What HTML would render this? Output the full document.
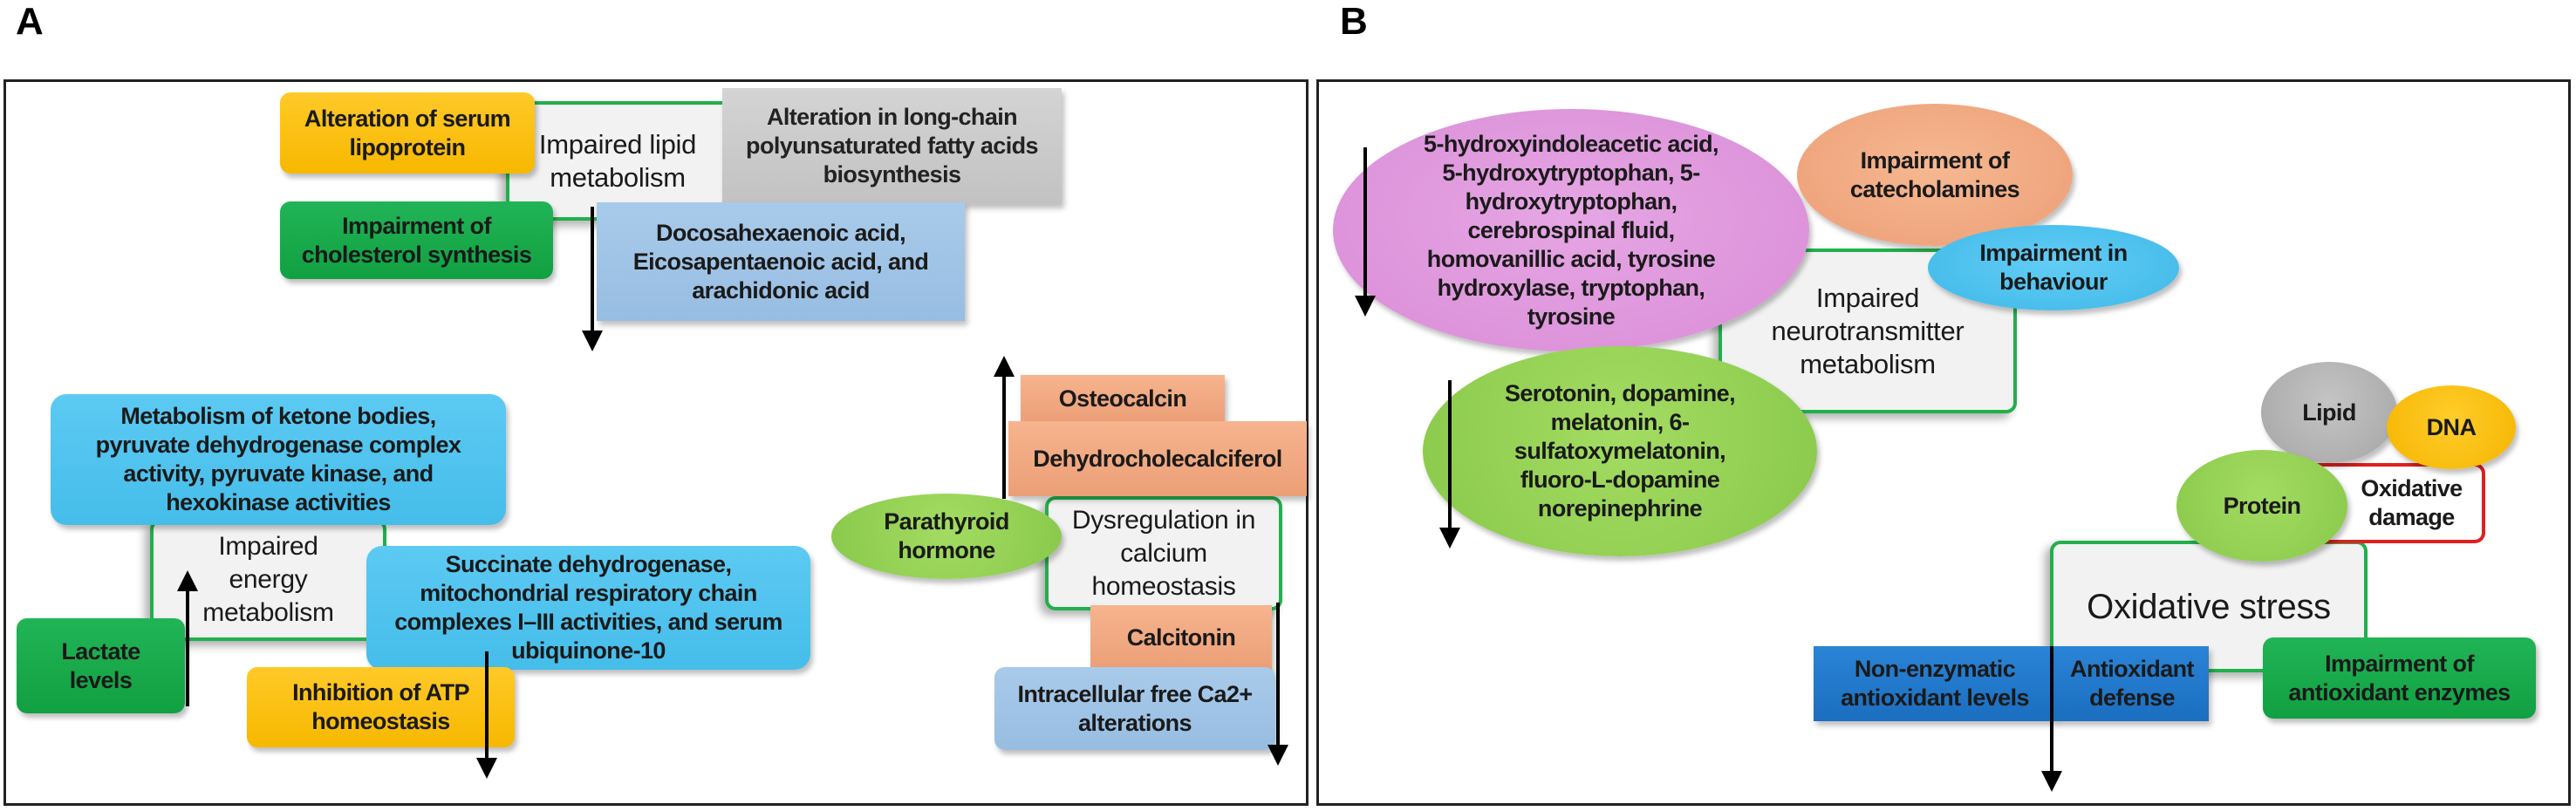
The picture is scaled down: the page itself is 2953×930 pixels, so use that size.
<!DOCTYPE html>
<html><head><meta charset="utf-8"><style>
body{margin:0;width:2953px;height:930px;background:#fff;position:relative;overflow:hidden;font-family:"Liberation Sans Narrow","Liberation Sans",sans-serif;font-stretch:condensed;}
.b{position:absolute;display:flex;align-items:center;justify-content:center;text-align:center;font-size:27px;line-height:33px;letter-spacing:-0.6px;color:#1a1a1a;font-weight:bold;box-sizing:border-box;box-shadow:3px 5px 6px rgba(0,0,0,0.25);}
.r{border-radius:12px}
.e{border-radius:50%}
.w{background:#f2f2f2;border:4px solid #21b04b;font-weight:normal;font-size:31px;line-height:38px;letter-spacing:-0.3px;box-shadow:-6px 6px 10px rgba(0,0,0,0.3);}
.y{background:linear-gradient(#ffc928,#f7b800)}
.g{background:linear-gradient(#21b456,#11a042)}
.lb{background:linear-gradient(#a9cbea,#97bde2)}
.c{background:linear-gradient(#5ccaf3,#45bdea)}
.s{background:linear-gradient(#f6b48e,#ec9f76)}
.gr{background:linear-gradient(#d4d4d4,#c2c2c2)}
.lg{background:radial-gradient(circle at 50% 40%,#a3dc62,#88c84a)}
.bl{background:linear-gradient(#2a84d6,#1b6ec0)}
.lab{position:absolute;font-family:"Liberation Sans",sans-serif;font-weight:bold;font-size:44px;color:#000;}
.panel{position:absolute;border:3px solid #222;box-sizing:border-box}
</style></head><body>
<div class="lab" style="left:18px;top:0px">A</div>
<div class="lab" style="left:1536px;top:0px">B</div>
<div class="panel" style="left:4px;top:91px;width:1496px;height:833px"></div>
<div class="panel" style="left:1509px;top:91px;width:1438px;height:833px"></div>

<!-- Panel A -->
<div class="b w" style="left:580px;top:116px;width:252px;height:137px;border-right:none;border-bottom-width:4px">Impaired lipid<br>metabolism</div>
<div class="b y r" style="left:321px;top:106px;width:292px;height:93px">Alteration of serum<br>lipoprotein</div>
<div class="b gr" style="left:828px;top:101px;width:389px;height:133px;color:#222">Alteration in long-chain<br>polyunsaturated fatty acids<br>biosynthesis</div>
<div class="b g r" style="left:321px;top:231px;width:313px;height:89px">Impairment of<br>cholesterol synthesis</div>
<div class="b lb" style="left:684px;top:232px;width:422px;height:136px">Docosahexaenoic acid,<br>Eicosapentaenoic acid, and<br>arachidonic acid</div>

<div class="b w r" style="left:172px;top:595px;width:271px;height:140px;font-size:30px">Impaired<br>energy<br>metabolism</div>
<div class="b c r" style="left:58px;top:452px;width:522px;height:150px;border-radius:18px">Metabolism of ketone bodies,<br>pyruvate dehydrogenase complex<br>activity, pyruvate kinase, and<br>hexokinase activities</div>
<div class="b c r" style="left:420px;top:626px;width:509px;height:142px;border-radius:18px">Succinate dehydrogenase,<br>mitochondrial respiratory chain<br>complexes I–III activities, and serum<br>ubiquinone-10</div>
<div class="b g r" style="left:19px;top:709px;width:193px;height:109px">Lactate<br>levels</div>
<div class="b y r" style="left:283px;top:765px;width:307px;height:92px">Inhibition of ATP<br>homeostasis</div>

<div class="b w r" style="left:1198px;top:569px;width:272px;height:131px;font-size:30px">Dysregulation in<br>calcium<br>homeostasis</div>
<div class="b s" style="left:1170px;top:430px;width:234px;height:55px">Osteocalcin</div>
<div class="b s" style="left:1156px;top:483px;width:342px;height:86px">Dehydrocholecalciferol</div>
<div class="b lg e" style="left:953px;top:566px;width:264px;height:98px">Parathyroid<br>hormone</div>
<div class="b s" style="left:1250px;top:694px;width:208px;height:74px">Calcitonin</div>
<div class="b lb r" style="left:1140px;top:765px;width:322px;height:95px">Intracellular free Ca2+<br>alterations</div>

<!-- Panel B -->
<div class="b w r" style="left:1970px;top:285px;width:342px;height:189px;font-size:31px">Impaired<br>neurotransmitter<br>metabolism</div>
<div class="b e" style="left:1528px;top:125px;width:546px;height:278px;background:radial-gradient(ellipse at 50% 45%,#e6a6e4,#d98cd6)">5-hydroxyindoleacetic acid,<br>5-hydroxytryptophan, 5-<br>hydroxytryptophan,<br>cerebrospinal fluid,<br>homovanillic acid, tyrosine<br>hydroxylase, tryptophan,<br>tyrosine</div>
<div class="b e s" style="left:2060px;top:119px;width:316px;height:163px;background:radial-gradient(ellipse at 50% 45%,#f6b891,#ec9e76)">Impairment of<br>catecholamines</div>
<div class="b e" style="left:2210px;top:258px;width:288px;height:98px;background:radial-gradient(ellipse at 50% 45%,#62cdf5,#3eb8e8)">Impairment in<br>behaviour</div>
<div class="b e lg" style="left:1631px;top:397px;width:452px;height:241px">Serotonin, dopamine,<br>melatonin, 6-<br>sulfatoxymelatonin,<br>fluoro-L-dopamine<br>norepinephrine</div>

<div class="b w r" style="left:2350px;top:620px;width:364px;height:151px;font-size:40px">Oxidative stress</div>
<div class="b r" style="left:2640px;top:531px;width:209px;height:92px;background:#fff;border:4px solid #e02020;padding-left:40px;box-shadow:none">Oxidative<br>damage</div>
<div class="b e" style="left:2592px;top:415px;width:156px;height:116px;background:radial-gradient(circle at 50% 40%,#c4c4c4,#a5a5a5)">Lipid</div>
<div class="b e y" style="left:2736px;top:442px;width:148px;height:96px;background:radial-gradient(circle at 50% 40%,#ffcd2a,#f5b400)">DNA</div>
<div class="b e lg" style="left:2495px;top:516px;width:196px;height:128px">Protein</div>
<div class="b bl" style="left:2079px;top:741px;width:278px;height:86px">Non-enzymatic<br>antioxidant levels</div>
<div class="b bl" style="left:2356px;top:741px;width:176px;height:86px">Antioxidant<br>defense</div>
<div class="b g r" style="left:2594px;top:731px;width:313px;height:93px">Impairment of<br>antioxidant enzymes</div>

<svg style="position:absolute;left:0;top:0" width="2953" height="930">
<defs><marker id="a" markerWidth="6" markerHeight="6" refX="4" refY="3" orient="auto" markerUnits="strokeWidth"><path d="M0,0 L6,3 L0,6 z" fill="#000"/></marker></defs>
<g stroke="#000" stroke-width="4" fill="none" marker-end="url(#a)">
<line x1="679" y1="237" x2="679" y2="395"/>
<line x1="215" y1="810" x2="215" y2="662"/>
<line x1="558" y1="747" x2="558" y2="885"/>
<line x1="1151" y1="572" x2="1151" y2="416"/>
<line x1="1465" y1="691" x2="1465" y2="870"/>
<line x1="1565" y1="169" x2="1565" y2="355"/>
<line x1="1662" y1="436" x2="1662" y2="621"/>
<line x1="2352" y1="741" x2="2352" y2="900"/>
</g></svg>
</body></html>
